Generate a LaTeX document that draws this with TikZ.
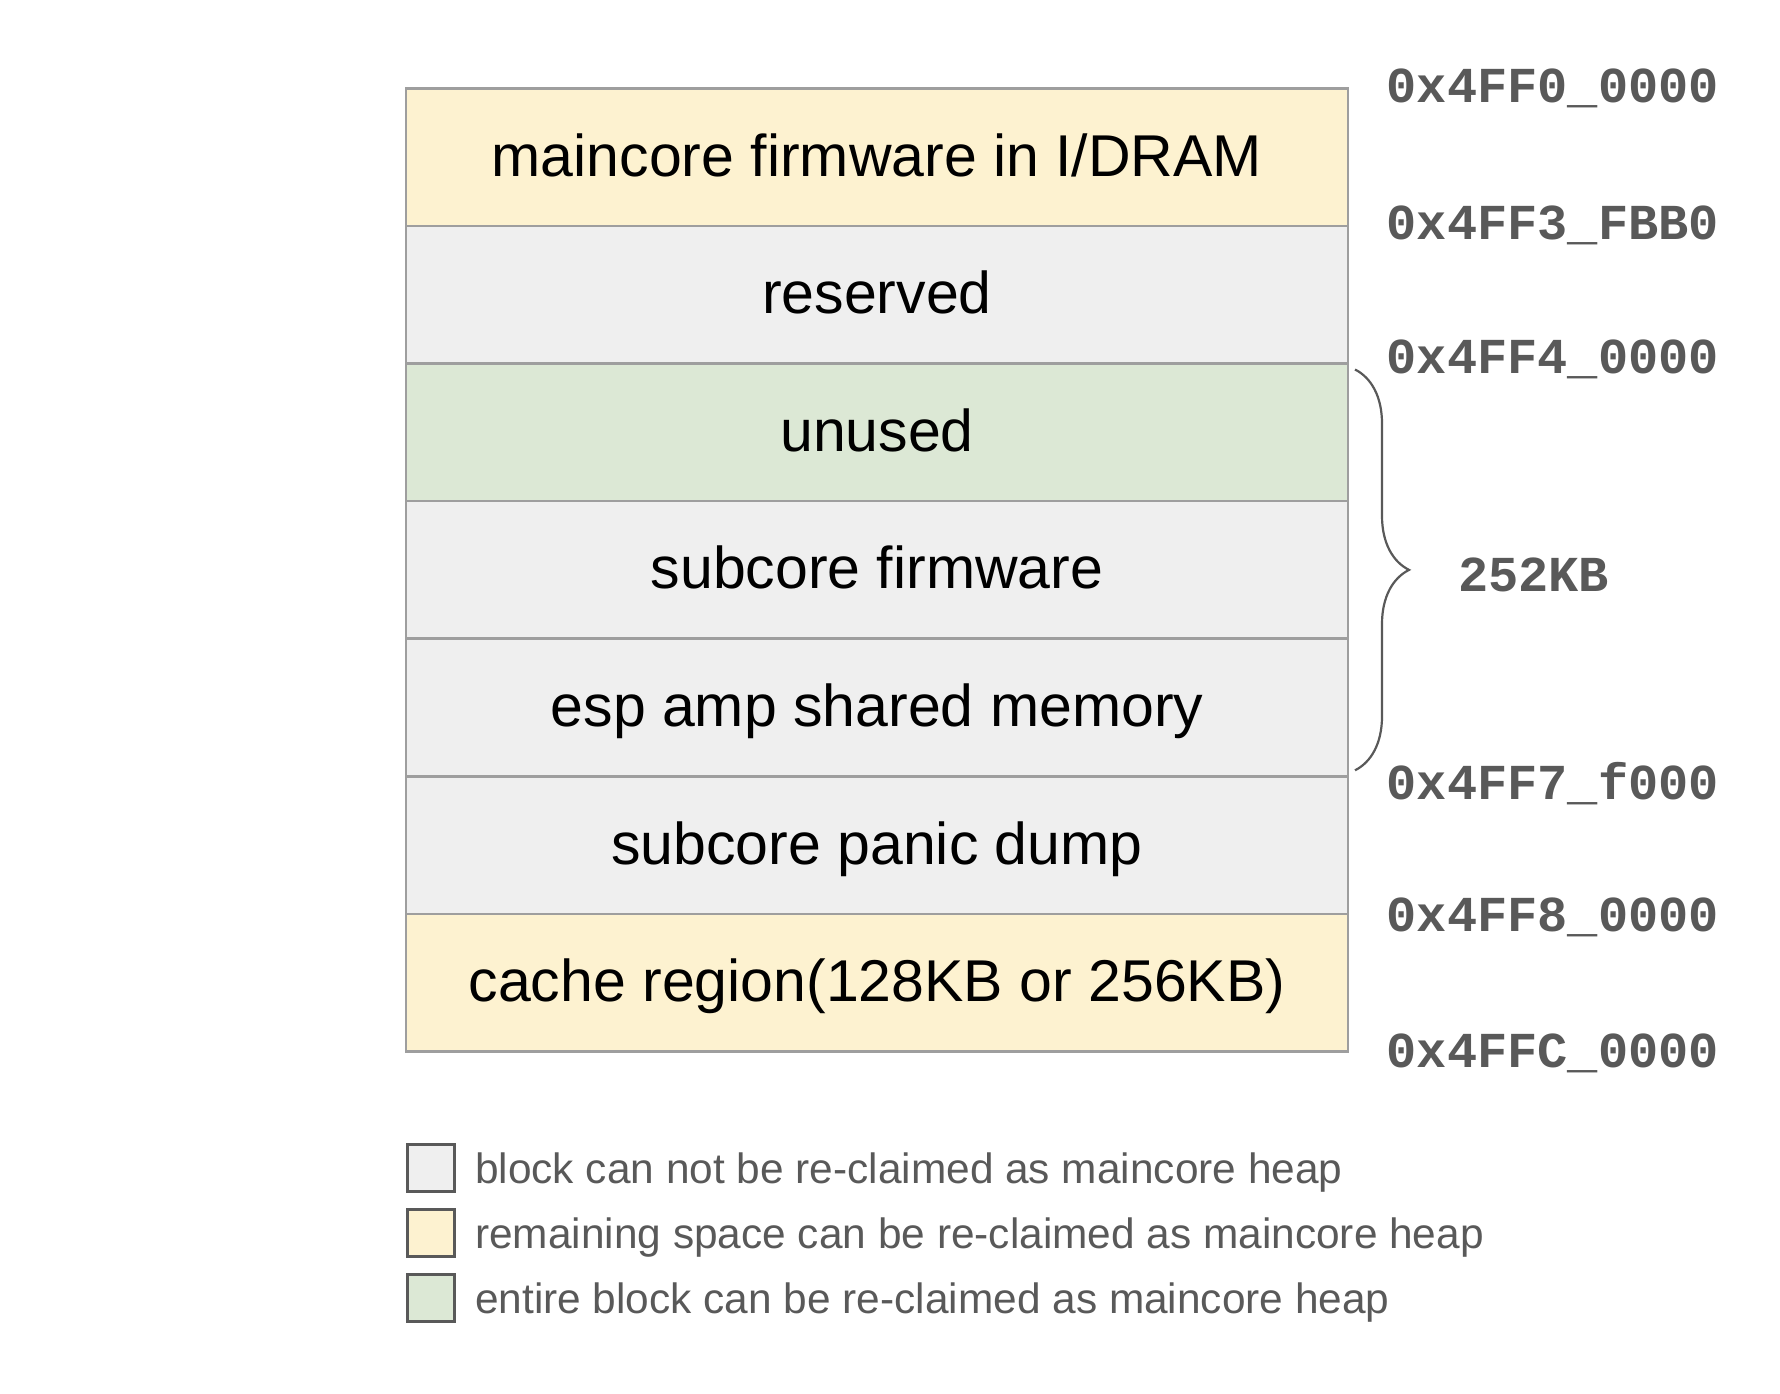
\documentclass[tikz,border=0pt]{standalone}
\usepackage{fontspec}
\setmainfont{Liberation Sans}
\newfontfamily\addrfont{Liberation Mono}
\usetikzlibrary{positioning,decorations.pathreplacing}
\definecolor{memyellow}{HTML}{FDF2D0}
\definecolor{memgreen}{HTML}{DCE8D5}
\definecolor{memgray}{HTML}{EFEFEF}
\definecolor{memline}{HTML}{9E9E9E}
\definecolor{labelgray}{HTML}{595959}
\begin{document}
\begin{tikzpicture}[
  x=1pt, y=-1pt,
  region/.style={draw=memline, line width=2.5pt, minimum width=942pt,
    minimum height=137.6pt, inner sep=0pt, outer sep=0pt,
    text height=53pt, text depth=15pt, font=\fontsize{59}{70}\selectfont},
  addr/.style={anchor=east, inner sep=0pt, text=labelgray,
    text height=45pt, text depth=15pt,
    font=\addrfont\bfseries\fontsize{50.3}{60}\selectfont},
  swatch/.style={draw=labelgray, line width=3pt, minimum size=47pt, inner sep=0pt},
  legtext/.style={anchor=west, inner sep=0pt, text=labelgray,
    text height=40pt, text depth=10pt, font=\fontsize{42.4}{50}\selectfont}
]
\useasboundingbox (0,0) rectangle (1780,1394);
% memory regions, top to bottom
\node[region, fill=memyellow] (mainfw) at (877,157.1) {maincore firmware in I/DRAM};
\node[region, fill=memgray, below=0pt of mainfw] (reserved) {reserved};
\node[region, fill=memgreen, below=0pt of reserved] (unused) {unused};
\node[region, fill=memgray, below=0pt of unused] (subfw) {subcore firmware};
\node[region, fill=memgray, below=0pt of subfw] (shared) {esp amp shared memory};
\node[region, fill=memgray, below=0pt of shared] (panic) {subcore panic dump};
\node[region, fill=memyellow, below=0pt of panic] (cache) {cache region(128KB or 256KB)};
% addresses
\node[addr] (a0) at (1719,88) {0x4FF0\_0000};
\node[addr] (a1) at (1719,224) {0x4FF3\_FBB0};
\node[addr] (a2) at (1719,358) {0x4FF4\_0000};
\node[addr] (a3) at (1719,784) {0x4FF7\_f000};
\node[addr] (a4) at (1719,916) {0x4FF8\_0000};
\node[addr] (a5) at (1719,1052) {0x4FFC\_0000};
% size brace
\coordinate (btop) at ([xshift=7pt,yshift=-6pt]unused.north east);
\coordinate (bbot) at ([xshift=7pt,yshift=6pt]shared.south east);
\draw[labelgray, line width=2.2pt, decorate, decoration={brace, amplitude=54pt}]
  (btop) -- (bbot);
\node[addr, anchor=west] (size) at (1458,576) {252KB};
% legend
\node[swatch, fill=memgray] (k1) at (431,1168) {};
\node[swatch, fill=memyellow] (k2) at (431,1233) {};
\node[swatch, fill=memgreen] (k3) at (431,1298) {};
\node[legtext, right=19pt of k1] (t1) {block can not be re-claimed as maincore heap};
\node[legtext, right=19pt of k2] (t2) {remaining space can be re-claimed as maincore heap};
\node[legtext, right=19pt of k3] (t3) {entire block can be re-claimed as maincore heap};
\end{tikzpicture}
\end{document}
